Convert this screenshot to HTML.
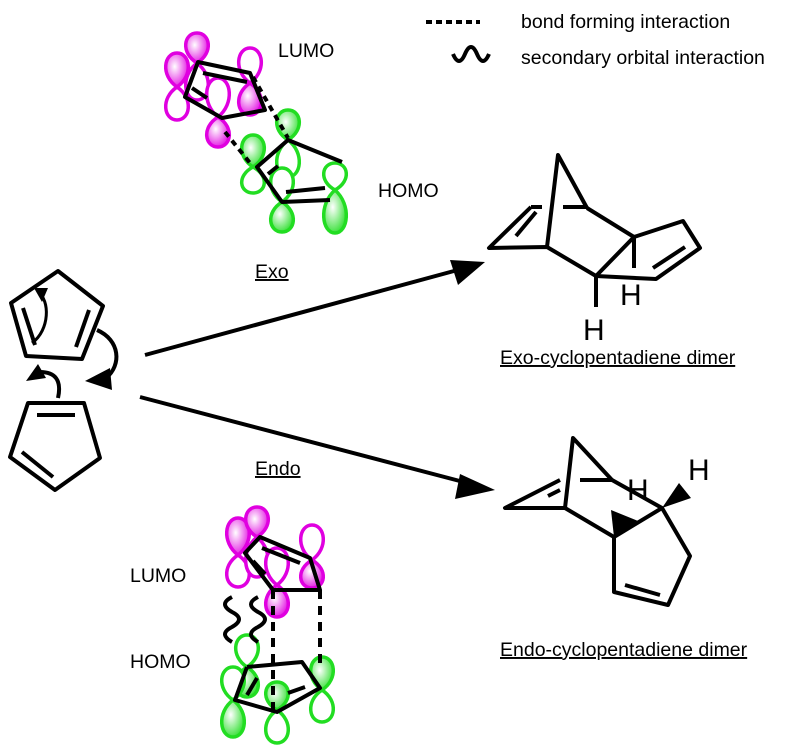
<!DOCTYPE html>
<html><head><meta charset="utf-8"><style>
html,body{margin:0;padding:0;background:#fff}
svg{display:block}
text{font-family:"Liberation Sans",sans-serif;fill:#000}
</style></head><body>
<svg id="s" width="789" height="756" viewBox="0 0 789 756" xmlns="http://www.w3.org/2000/svg">
<defs>
<radialGradient id="gm" cx="0.4" cy="0.4" r="0.7"><stop offset="0" stop-color="#fff"/><stop offset="1" stop-color="#e000e0"/></radialGradient>
<radialGradient id="gg" cx="0.4" cy="0.4" r="0.7"><stop offset="0" stop-color="#fff"/><stop offset="1" stop-color="#22dd22"/></radialGradient>
</defs>
<g id="orb"></g>
<g stroke="#000" stroke-width="4" fill="none" stroke-linejoin="round">
<line x1="426" y1="22" x2="480" y2="22" stroke-dasharray="6,4"/>
<path d="M453,54 q6,14 12,0 q6,-14 12,0 q6,14 12,0" />
<polygon points="58,271 103,306 82,359 26,356 11,303"/>
<line x1="23" y1="308" x2="35" y2="345"/>
<line x1="89" y1="310" x2="76" y2="347"/>
<polygon points="28,403 84,403 100,458 55,490 10,457"/>
<line x1="37" y1="415" x2="75" y2="415"/>
<line x1="22" y1="452" x2="53" y2="477"/>
<path d="M32,343 C50,330 50,300 38,292" stroke-width="3"/>
<path d="M97,330 C120,340 122,365 106,378"/>
<path d="M58,398 C62,380 55,372 40,372"/>
<line x1="145" y1="355" x2="465" y2="268"/>
<line x1="140" y1="397" x2="475" y2="485"/>
<polyline points="547,247 558,155 587,208"/>
<polyline points="531,207 489,248 547,247 596,276 634,237 587,208"/>
<line x1="531" y1="207" x2="542" y2="207"/><line x1="563" y1="207" x2="587" y2="207"/>
<line x1="516" y1="236" x2="536" y2="212"/>
<polyline points="596,276 656,279 700,248 683,221 634,237"/>
<line x1="653" y1="268" x2="685" y2="247"/>
<line x1="634" y1="237" x2="634" y2="268"/>
<line x1="596" y1="276" x2="596" y2="307"/>
<polyline points="565,508 573,438 612,480"/>
<polyline points="560,480 505,508 565,508 614,537 614,592 668,605 690,556 662,508 612,480"/>
<line x1="580" y1="480" x2="612" y2="480"/>
<line x1="548" y1="496" x2="560" y2="490"/>
<line x1="625" y1="585" x2="660" y2="595"/>
<line x1="614" y1="537" x2="662" y2="508"/>
<polygon points="198,62 250,73 265,110 222,118 185,97"/>
<line x1="203" y1="73" x2="247" y2="82"/><line x1="192" y1="88" x2="207" y2="98"/>
<line x1="253" y1="77" x2="288" y2="138" stroke-dasharray="6,5"/>
<line x1="225" y1="132" x2="250" y2="163" stroke-dasharray="6,5"/>
<polyline points="342,162 288,140 257,167 282,202 330,200"/>
<line x1="286" y1="192" x2="325" y2="188"/><line x1="268" y1="174" x2="278" y2="166"/>
<polygon points="260,537 310,558 320,590 273,590 245,553"/>
<line x1="262" y1="548" x2="300" y2="563"/><line x1="253" y1="561" x2="265" y2="574"/>
<line x1="273" y1="590" x2="273" y2="710" stroke-dasharray="9,7"/>
<line x1="320" y1="590" x2="320" y2="665" stroke-dasharray="9,7"/>
<path d="M232,597 q-14,7 0,15 q14,7 0,15 q-14,7 0,15" />
<path d="M258,597 q-14,7 0,15 q14,7 0,15 q-14,7 0,15" />
<polyline points="247,667 302,662 320,688 277,712 235,700 247,667"/>
<line x1="247" y1="695" x2="257" y2="678"/><line x1="288" y1="693" x2="305" y2="687"/>
</g>
<g fill="#000">
<polygon points="485,262 450,260 458,285"/>
<polygon points="495,490 460,474 455,499"/>
<polygon points="85,381 110,368 112,390"/>
<polygon points="26,381 38,364 46,378"/>
<polygon points="34,288 48,288 42,302"/>
<polygon points="614,537 611,510 638,521"/>
<polygon points="662,508 679,483 691,498"/>
</g>
<g font-size="19.5">
<text x="521" y="28">bond forming interaction</text>
<text x="521" y="64">secondary orbital interaction</text>
<text x="278" y="57">LUMO</text>
<text x="378" y="197">HOMO</text>
<text x="255" y="278" text-decoration="underline">Exo</text>
<text x="255" y="475" text-decoration="underline">Endo</text>
<text x="130" y="582">LUMO</text>
<text x="130" y="668">HOMO</text>
<text x="500" y="364" text-decoration="underline">Exo-cyclopentadiene dimer</text>
<text x="500" y="656" text-decoration="underline">Endo-cyclopentadiene dimer</text>
</g>
<g font-size="30">
<text x="620" y="305">H</text>
<text x="583" y="340">H</text>
<text x="627" y="500">H</text>
<text x="688" y="480">H</text>
</g>
</svg>
<script>
var data=[
['m',177,53,87,120,1],['m',197,33,63,100,1],['m',250,48,83,115,2],['m',218,78,117,147,2],
['g',288,110,140,177,1],['g',253,135,167,193,1],['g',282,168,202,232,2],['g',335,163,190,233,2],
['m',238,518,555,587,1],['m',257,507,537,577,1],['m',277,548,585,617,2],['m',312,525,560,588,2],
['g',247,635,667,697,2],['g',233,667,700,737,2],['g',277,682,710,743,1],['g',322,657,690,722,1]];
var g=document.getElementById('orb'),h='';
function lobe(x,n,t,fill,col){var w=10,d=t-n;
return '<path d="M'+x+','+n+' C'+(x-w*1.7)+','+(n+d*0.35)+' '+(x-w*1.3)+','+t+' '+x+','+t+' C'+(x+w*1.3)+','+t+' '+(x+w*1.7)+','+(n+d*0.35)+' '+x+','+n+'Z" fill="'+fill+'" stroke="'+col+'" stroke-width="3.5"/>';}
data.forEach(function(o){var col=o[0]=='m'?'#e000e0':'#22dd22',gr=o[0]=='m'?'url(#gm)':'url(#gg)';
h+=lobe(o[1],o[3],o[2],o[5]==1?gr:'#fff',col);h+=lobe(o[1],o[3],o[4],o[5]==2?gr:'#fff',col);});
g.innerHTML=h;
</script>
</body></html>
